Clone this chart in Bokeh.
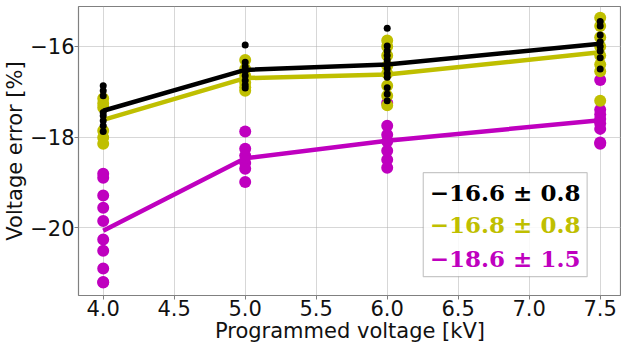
from bokeh.plotting import figure
from bokeh.models import Range1d, FixedTicker, BoxAnnotation, Label
from bokeh.embed import file_html
from bokeh.resources import INLINE

# ---- data ----
volts = [4.0, 5.0, 6.0, 7.5]

black_pts = {
    4.0: [-16.87, -16.98, -17.09, -17.46, -17.53, -17.64, -17.75, -17.88],
    5.0: [-15.97, -16.35, -16.45, -16.55, -16.65, -16.75, -16.85, -16.92],
    6.0: [-15.60, -15.99, -16.10, -16.20, -16.30, -16.40, -16.49, -16.60, -16.68, -16.91, -17.05, -17.20],
    7.5: [-15.45, -15.55, -15.75, -15.90, -16.00, -16.10, -16.25, -16.50],
}
yellow_pts = {
    4.0: [-17.15, -17.26, -17.35, -17.86, -18.01, -18.15],
    5.0: [-16.30, -16.50, -16.65, -16.80, -16.90, -16.98],
    6.0: [-15.87, -16.00, -16.20, -16.43, -16.60, -16.87, -17.09, -17.30],
    7.5: [-15.37, -15.55, -15.80, -16.00, -16.20, -16.40, -16.55, -17.20],
}
magenta_pts = {
    4.0: [-18.81, -18.90, -19.29, -19.56, -19.85, -20.26, -20.51, -20.90, -21.21, -21.20],
    5.0: [-17.88, -18.26, -18.41, -18.57, -18.70, -18.99],
    6.0: [-17.25, -17.75, -17.95, -18.10, -18.30, -18.50, -18.68],
    7.5: [-16.74, -17.40, -17.50, -17.60, -17.70, -17.82, -18.12, -18.15],
}
black_line = [-17.42, -16.52, -16.40, -15.94]
yellow_line = [-17.62, -16.70, -16.62, -16.13]
magenta_line = [-20.07, -18.47, -18.08, -17.63]

legend_texts = ["−16.6 ± 0.8", "−16.8 ± 0.8", "−18.6 ± 1.5"]

x_ticks = [4.0, 4.5, 5.0, 5.5, 6.0, 6.5, 7.0, 7.5]
x_tick_labels = ["4.0", "4.5", "5.0", "5.5", "6.0", "6.5", "7.0", "7.5"]
y_ticks = [-20, -18, -16]
y_tick_labels = ["−20", "−18", "−16"]
x_title = "Programmed voltage [kV]"
y_title = "Voltage error [%]"

BLACK = "#000000"
YELLOW = "#bfbf00"
MAGENTA = "#bf00bf"

p = figure(width=621, height=349, output_backend="svg", toolbar_location=None,
           x_range=Range1d(3.826, 7.650), y_range=Range1d(-21.496, -15.12),
           min_border_left=78, min_border_right=0, min_border_top=6, min_border_bottom=54)
p.background_fill_color = "white"
p.border_fill_color = "white"
p.outline_line_color = "#808080"
p.outline_line_width = 1.2


def flat(d):
    xs, ys = [], []
    for k in volts:
        for v in d[k]:
            xs.append(k)
            ys.append(v)
    return xs, ys


for pts, line, col, sz in [(magenta_pts, magenta_line, MAGENTA, 12),
                           (yellow_pts, yellow_line, YELLOW, 12),
                           (black_pts, black_line, BLACK, 7)]:
    xs, ys = flat(pts)
    p.scatter(xs, ys, size=sz, color=col, line_color=None)
    p.line(volts, line, line_width=4.5, color=col)

p.xaxis.ticker = FixedTicker(ticks=x_ticks)
p.xaxis.major_label_overrides = {t: l for t, l in zip(x_ticks, x_tick_labels)}
p.yaxis.ticker = FixedTicker(ticks=y_ticks)
p.yaxis.major_label_overrides = {t: l for t, l in zip(y_ticks, y_tick_labels)}

p.xaxis.axis_label = x_title
p.yaxis.axis_label = y_title
for ax in (p.xaxis, p.yaxis):
    ax.axis_label_text_font = "DejaVu Sans"
    ax.axis_label_text_font_size = "21px"
    ax.axis_label_text_font_style = "normal"
    ax.axis_label_text_color = "#111111"
    ax.major_label_text_font = "DejaVu Sans"
    ax.major_label_text_font_size = "21px"
    ax.major_label_text_color = "#111111"
    ax.axis_line_color = None
    ax.minor_tick_line_color = None
    ax.major_tick_in = 0
    ax.major_tick_out = 4
    ax.major_tick_line_color = "#808080"
    ax.major_label_standoff = 0
p.xaxis.axis_label_standoff = 0
p.yaxis.axis_label_standoff = 0

p.grid.grid_line_color = "#b0b0b0"
p.grid.grid_line_alpha = 0.5
p.grid.grid_line_width = 1

# legend box
p.add_layout(BoxAnnotation(left=6.254, right=7.408, top=-18.786, bottom=-21.08,
                           fill_color="white", fill_alpha=0.85,
                           line_color="#444444", line_width=1.2, level="annotation"))
for txt, col, yy in zip(legend_texts, [BLACK, YELLOW, MAGENTA], [-19.23, -19.94, -20.67]):
    p.add_layout(Label(x=6.30, y=yy, text=txt, text_color=col,
                       text_font="DejaVu Serif", text_font_style="bold",
                       text_font_size="23px", text_baseline="middle", text_align="left"))

open("out.html", "w").write(file_html(p, INLINE))
